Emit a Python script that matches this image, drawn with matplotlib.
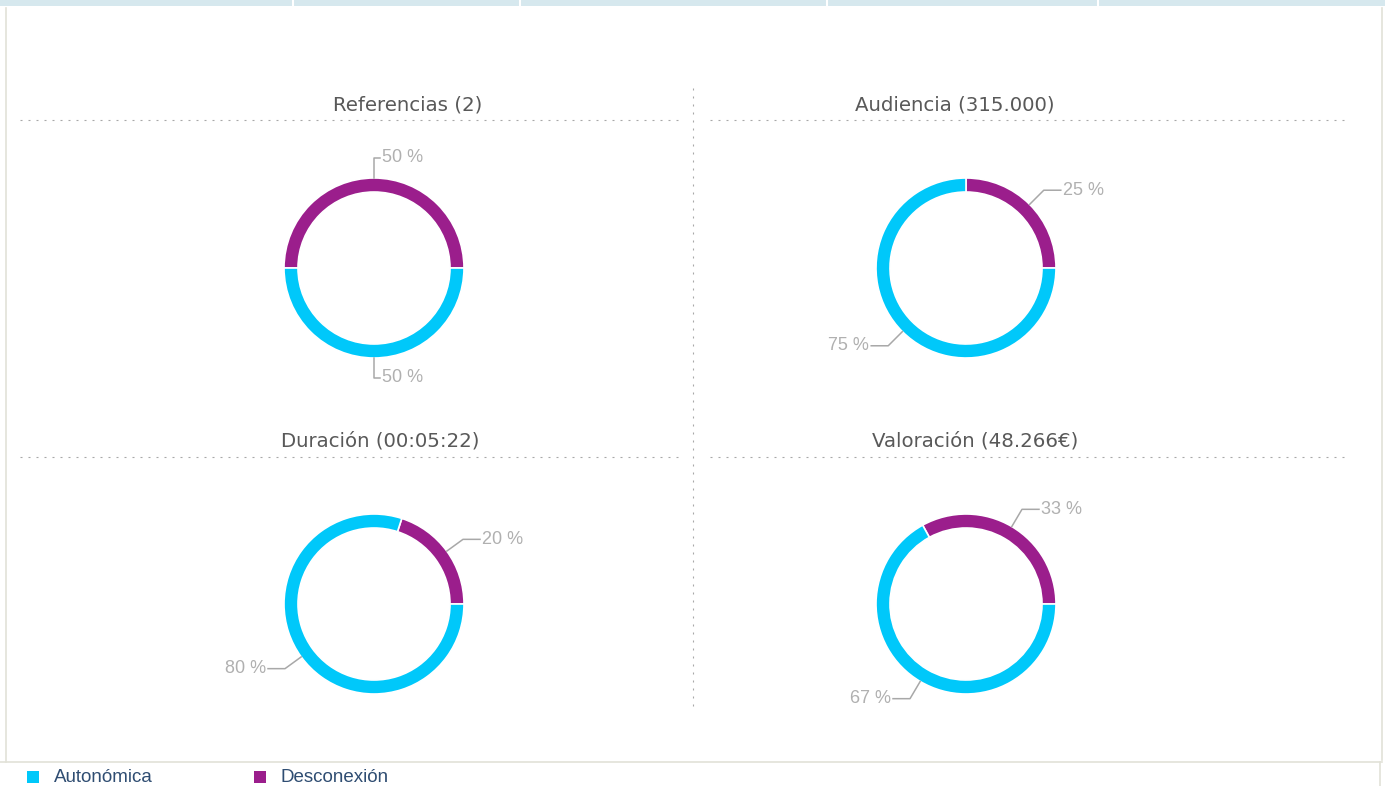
import numpy as np
import matplotlib.pyplot as plt

# =========================
# data
# =========================
TITLES = ["Referencias (2)", "Audiencia (315.000)", "Duración (00:05:22)", "Valoración (48.266€)"]
SERIES = ["Desconexión", "Autonómica"]
DESCONEXION = [50, 25, 20, 33]
AUTONOMICA = [50, 75, 80, 67]

COLORS = {"Autonómica": "#00c8fa", "Desconexión": "#9b1e8c"}

# =========================
# layout (pixel coords, y up)
# =========================
W, H = 1385, 786
CENTERS = [(374, 268), (966, 268), (374, 604), (966, 604)]
TITLE_X = [408, 955, 380, 975]
R_OUT, RING = 90, 14


def py(y):
    return H - y


fig = plt.figure(figsize=(W / 100, H / 100), dpi=100)
ax = fig.add_axes([0, 0, 1, 1])

# top header strip
ax.fill_between([0, W], py(0), py(6), color="#d6e8ee", lw=0)
for x in [293, 520, 827, 1098]:
    ax.plot([x, x], [py(0), py(6)], color="white", lw=1.5)

# frame
frame_c = "#e2e2d8"
ax.plot([6, 6], [py(8), py(762)], color=frame_c, lw=1.2)
ax.plot([1382, 1382], [py(8), py(760)], color=frame_c, lw=1.2)
ax.plot([0, 1382], [py(762), py(762)], color=frame_c, lw=1.2)
ax.plot([1380, 1380], [py(762), py(786)], color=frame_c, lw=1.2)

# dotted dividers
div_c = "#a8a8a8"
dots = (0, (1.8, 5.4))
for y in [120, 457]:
    ax.plot([20, 678], [py(y), py(y)], color=div_c, lw=0.8, ls=dots)
    ax.plot([710, 1344], [py(y), py(y)], color=div_c, lw=0.8, ls=dots)
ax.plot([693, 693], [py(88), py(712)], color=div_c, lw=0.8, ls=dots)

for i, title in enumerate(TITLES):
    cx, cy = CENTERS[i]
    ax.text(TITLE_X[i], py(cy - 163), title, ha="center", va="center",
            fontsize=14.2, color="#595959", family="DejaVu Sans")

    vals = [DESCONEXION[i], AUTONOMICA[i]]
    wedges, _ = ax.pie(vals, center=(cx, py(cy)), radius=R_OUT, startangle=0,
                       counterclock=True,
                       colors=[COLORS[s] for s in SERIES],
                       wedgeprops=dict(width=RING, edgecolor="white", linewidth=1.2))

    # data labels with connectors
    for w, v in zip(wedges, vals):
        mid = np.deg2rad((w.theta1 + w.theta2) / 2)
        c, s = np.cos(mid), np.sin(mid)
        x0, y0 = cx + R_OUT * c, py(cy) + R_OUT * s
        x1, y1 = cx + (R_OUT + 20) * c, py(cy) + (R_OUT + 20) * s
        side = 1 if round(c, 6) >= 0 else -1
        h = 6 if abs(c) < 0.3 else 17
        x2 = x1 + side * h
        ax.plot([x0, x1, x2], [y0, y1, y1], color="#a8a8a8", lw=1.1)
        ax.text(x2 + side * 2, y1, f"{v} %", ha="left" if side > 0 else "right",
                va="center", fontsize=13, color="#b0b0b0", family="Liberation Sans")

# legend
for x, s in [(33, "Autonómica"), (260, "Desconexión")]:
    ax.scatter([x], [py(777)], marker="s", s=70, color=COLORS[s], lw=0)
    ax.text(x + 21, py(777), s, ha="left", va="center", fontsize=13.5,
            color="#2f4d72", family="Liberation Sans")

ax.set_xlim(0, W)
ax.set_ylim(0, H)
ax.set_aspect("auto")
ax.axis("off")

fig.savefig("out.png", dpi=100)
